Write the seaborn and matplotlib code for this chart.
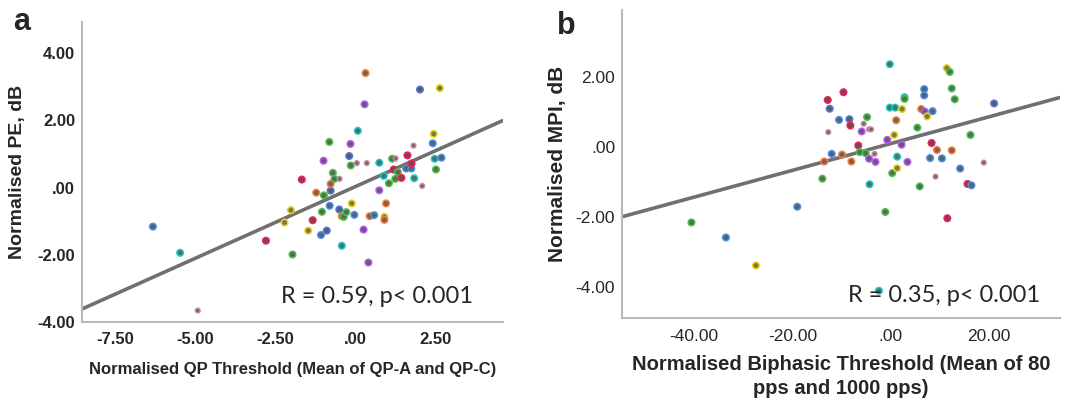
import numpy as np
import pandas as pd
import seaborn as sns
import matplotlib.pyplot as plt

sns.set_style("white")
plt.rcParams['font.family'] = ['Liberation Sans', 'DejaVu Sans']

# panel a: normalised QP threshold vs normalised PE
qp_x = [-6.32, -5.47, -4.92, -2.79, -2.21, -2.01, -1.96, -1.67, -1.47, -1.33,
        -1.22, -1.07, -1.04, -0.99, -0.98, -0.89, -0.81, -0.80, -0.77, -0.77,
        -0.70, -0.65, -0.49, -0.50, -0.42, -0.42, -0.36, -0.28, -0.19, -0.15,
        -0.14, -0.11, -0.03, 0.05, 0.08, 0.26, 0.29, 0.32, 0.36, 0.41,
        0.45, 0.59, 0.75, 0.75, 0.89, 0.91, 0.91, 0.96, 1.05, 1.15,
        1.20, 1.26, 1.25, 1.33, 1.44, 1.63, 1.59, 1.75, 1.76, 1.82,
        1.84, 2.02, 2.09, 2.42, 2.45, 2.48, 2.52, 2.64, 2.69]
pe_y = [-1.16, -1.94, -3.66, -1.58, -1.04, -0.67, -1.99, 0.24, -1.28, -0.97,
        -0.15, -1.41, -0.72, 0.80, -0.23, -1.28, 1.36, -0.54, -0.09, 0.11,
        0.44, 0.26, 0.26, -0.65, -1.73, -0.85, -0.87, -0.73, 0.94, 1.30,
        0.66, -0.47, -0.81, 0.73, 1.69, -1.25, 2.48, 3.41, 0.73, -2.23,
        -0.85, -0.82, 0.74, -0.08, 0.35, -0.87, -0.96, -0.47, 0.13, 0.86,
        0.54, 0.87, 0.26, 0.46, 0.29, 0.96, 0.57, 0.57, 0.72, 1.25,
        0.28, 2.92, 0.05, 1.32, 1.60, 0.86, 0.54, 2.96, 0.89]
col_a = ['blue', 'teal', 'mauve', 'red', 'yellow', 'yellow', 'green', 'red', 'yellow', 'red',
         'orange', 'blue', 'green', 'purple', 'green', 'navy', 'green', 'blue', 'navy', 'orange',
         'green', 'green', 'mauve', 'navy', 'teal', 'orange', 'green', 'green', 'navy', 'purple',
         'green', 'yellow', 'blue', 'mauve', 'teal', 'purple', 'purple', 'orange', 'mauve', 'purple',
         'orange', 'blue', 'teal', 'purple', 'teal', 'yellow', 'orange', 'orange', 'green', 'green',
         'red', 'mauve', 'green', 'green', 'red', 'red', 'blue', 'blue', 'red', 'mauve',
         'teal', 'navy', 'mauve', 'blue', 'yellow', 'teal', 'green', 'yellow', 'blue']

# panel b: normalised biphasic threshold vs normalised MPI
bp_x = [-40.5, -33.5, -27.4, -19.0, -13.9, -13.5, -12.8, -12.7, -12.4, -12.0,
        -10.5, -9.9, -9.6, -8.4, -8.2, -8.0, -6.6, -6.3, -5.9, -5.5,
        -5.1, -4.8, -4.4, -4.0, -4.4, -4.3, -3.3, -3.1, -2.4, -1.1,
        -0.7, -0.2, -0.2, 0.3, 0.7, 0.9, 1.1, 1.3, 1.3, 2.2,
        2.3, 2.8, 2.8, 3.4, 5.4, 5.9, 6.2, 6.8, 6.8, 6.9,
        7.4, 8.0, 8.3, 8.5, 9.1, 9.4, 10.4, 11.4, 11.5, 12.0,
        12.4, 12.4, 13.0, 14.1, 15.6, 16.4, 16.2, 18.9, 21.0]
mpi_y = [-2.15, -2.58, -3.38, -1.70, -0.90, -0.41, 1.35, 0.43, 1.10, -0.19,
         0.78, -0.21, 1.57, 0.80, 0.62, -0.41, 0.05, -0.14, 0.45, 0.67,
         -0.17, 0.86, 0.51, 0.51, -0.33, -1.06, -0.19, -0.42, -4.10, -1.85,
         0.21, 2.37, 1.13, -0.74, 0.35, 1.13, 0.77, -0.27, -0.60, 0.07,
         1.09, 1.43, 1.38, -0.42, 0.56, -1.12, 1.09, 1.66, 1.48, 1.02,
         0.88, -0.31, 0.12, 1.03, -0.84, -0.08, -0.32, 2.26, -2.03, 2.15,
         -0.09, 1.68, 1.37, -0.61, -1.05, -1.09, 0.35, -0.44, 1.25]
col_b = ['green', 'blue', 'yellow', 'blue', 'green', 'orange', 'red', 'mauve', 'navy', 'blue',
         'blue', 'orange', 'red', 'navy', 'red', 'orange', 'red', 'green', 'purple', 'mauve',
         'green', 'green', 'mauve', 'mauve', 'purple', 'teal', 'mauve', 'purple', 'teal', 'green',
         'purple', 'teal', 'teal', 'green', 'yellow', 'teal', 'orange', 'teal', 'yellow', 'purple',
         'yellow', 'teal', 'green', 'purple', 'green', 'green', 'orange', 'blue', 'blue', 'purple',
         'yellow', 'blue', 'red', 'blue', 'mauve', 'orange', 'blue', 'yellow', 'red', 'green',
         'orange', 'green', 'green', 'blue', 'red', 'blue', 'green', 'mauve', 'navy']

palette = {'blue': '#4d8ee0', 'teal': '#22c7c0', 'mauve': '#c28aa0', 'red': '#e8245a',
           'yellow': '#e8d41c', 'green': '#4cbf4c', 'orange': '#f27e3a', 'purple': '#b45ef0',
           'navy': '#5a78d0'}

df_a = pd.DataFrame({'x': qp_x, 'y': pe_y, 'c': col_a})
df_b = pd.DataFrame({'x': bp_x, 'y': mpi_y, 'c': col_b})

fig = plt.figure(figsize=(10.67, 4), dpi=100)
ax1 = fig.add_axes([0.077, 0.195, 0.394, 0.75])
ax2 = fig.add_axes([0.583, 0.205, 0.41, 0.77])


def draw(ax, df, xlim, ylim):
    ax.set_xlim(*xlim)
    ax.set_ylim(*ylim)
    sns.regplot(data=df, x='x', y='y', ax=ax, scatter=False, ci=None, truncate=False,
                line_kws={'color': '#707070', 'lw': 2.6})
    for small, s in [(False, 22), (True, 11)]:
        sub = df[(df.c == 'mauve') == small]
        sns.scatterplot(data=sub, x='x', y='y', hue='c', palette=palette, ax=ax,
                        s=s, legend=False, linewidth=1.1, zorder=3)
        coll = ax.collections[-1]
        fc = coll.get_facecolors()
        coll.set_edgecolors(fc)
        dark = fc.copy()
        dark[:, :3] = fc[:, :3] * 0.3 + 0.22
        coll.set_facecolors(dark)
    ax.set_xlim(*xlim)
    ax.set_ylim(*ylim)
    for s in ['top', 'right']:
        ax.spines[s].set_visible(False)
    for s in ['left', 'bottom']:
        ax.spines[s].set_color('#b8b8b8')
        ax.spines[s].set_linewidth(1.5)
    ax.tick_params(length=0, pad=5)


draw(ax1, df_a, (-8.53, 4.6), (-4.0, 4.93))
ax1.set_xticks([-7.5, -5, -2.5, 0, 2.5])
ax1.set_xticklabels(['-7.50', '-5.00', '-2.50', '.00', '2.50'], fontsize=12, fontweight='bold')
ax1.tick_params(axis='x', pad=7)
ax1.set_yticks([-4, -2, 0, 2, 4])
ax1.set_yticklabels(['-4.00', '-2.00', '.00', '2.00', '4.00'], fontsize=12, fontweight='bold')
ax1.set_xlabel('Normalised QP Threshold (Mean of QP-A and QP-C)', fontsize=12,
               fontweight='bold', labelpad=11)
ax1.set_ylabel('Normalised PE, dB', fontsize=14, fontweight='bold', labelpad=8)
ax1.text(0.474, 0.063, 'R = 0.59, p< 0.001', transform=ax1.transAxes, fontsize=17,
         family='Lato')

draw(ax2, df_b, (-54.6, 34.3), (-4.88, 3.92))
ax2.set_xticks([-40, -20, 0, 20])
ax2.set_xticklabels(['-40.00', '-20.00', '.00', '20.00'], fontsize=12.5)
ax2.tick_params(axis='x', pad=8)
ax2.set_yticks([-4, -2, 0, 2])
ax2.set_yticklabels(['-4.00', '-2.00', '.00', '2.00'], fontsize=12.5)
ax2.set_xlabel('Normalised Biphasic Threshold (Mean of 80\npps and 1000 pps)', fontsize=14.5,
               fontweight='bold', labelpad=8, linespacing=1.3)
ax2.set_ylabel('Normalised MPI, dB', fontsize=15, fontweight='bold', labelpad=6)
ax2.text(0.516, 0.053, 'R = 0.35, p< 0.001', transform=ax2.transAxes, fontsize=17,
         family='Lato')

fig.text(0.012, 0.925, 'a', fontsize=22, fontweight='bold')
fig.text(0.522, 0.915, 'b', fontsize=22, fontweight='bold')

fig.savefig('out.png', dpi=100)
